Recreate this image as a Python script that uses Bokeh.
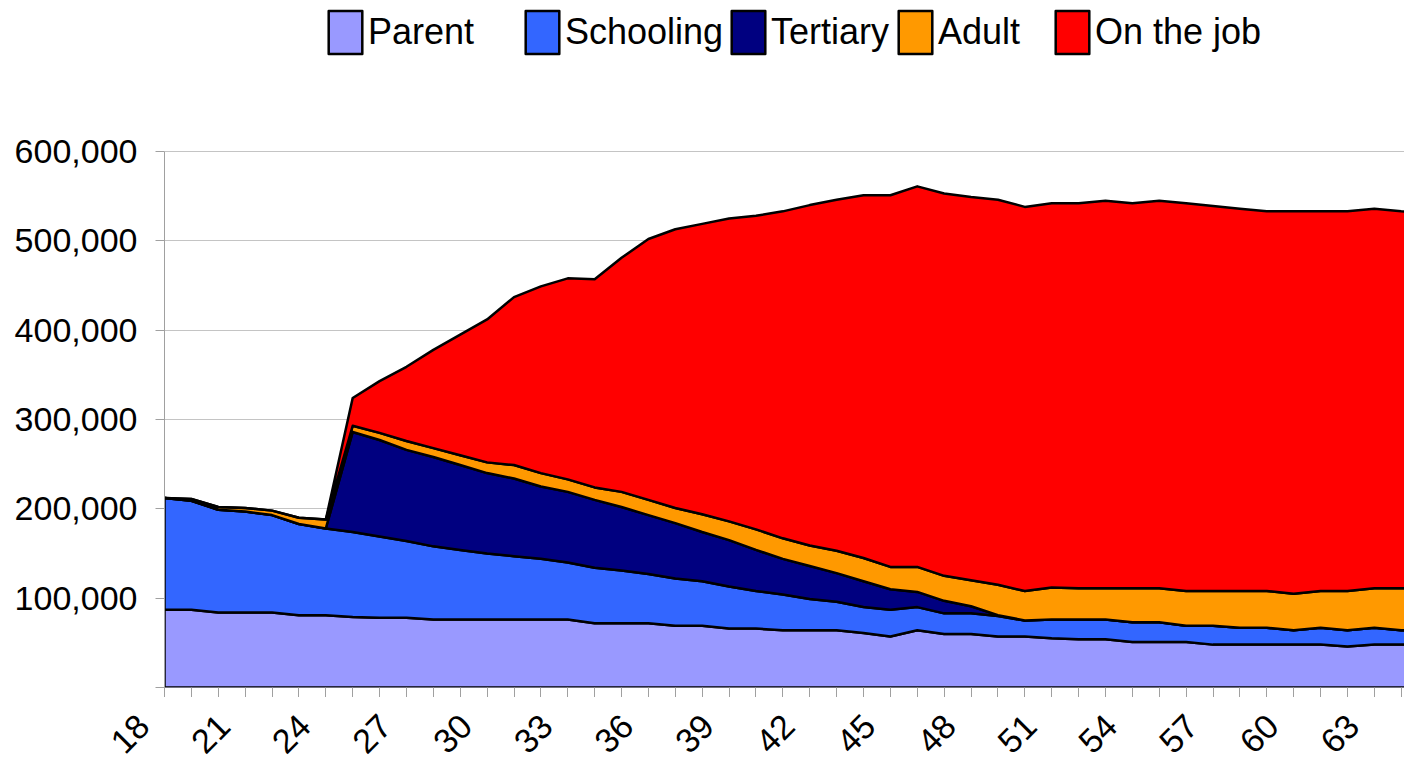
import numpy as np
from math import pi
from bokeh.plotting import figure
from bokeh.layouts import column
from bokeh.models import (Range1d, FixedTicker, NumeralTickFormatter, Legend,
                          LegendItem, LabelSet, ColumnDataSource)
from bokeh.core.properties import value
from bokeh.embed import file_html
from bokeh.resources import INLINE

# ---------------- data ----------------
ages = list(range(18, 66))

parent = [87000, 87000, 84000, 84000, 84000, 81000, 81000, 79000, 78000, 78000,
          76000, 76000, 76000, 76000, 76000, 76000, 72000, 72000, 72000, 69000,
          69000, 66000, 66000, 64000, 64000, 64000, 61000, 57000, 64000, 60000,
          60000, 57000, 57000, 55000, 54000, 54000, 51000, 51000, 51000, 48000,
          48000, 48000, 48000, 48000, 46000, 48000, 48000, 48000]

schooling = [125000, 122000, 115000, 113000, 109000, 102000, 97000, 95000, 91000, 86000,
             82000, 78000, 74000, 71000, 68000, 64000, 62000, 59000, 55000, 53000,
             50000, 47000, 42000, 40000, 35000, 32000, 29000, 30000, 26000, 23000,
             23000, 23000, 18000, 21000, 22000, 22000, 22000, 22000, 18000, 21000,
             19000, 19000, 16000, 19000, 18000, 19000, 16000, 16000]

tertiary = [0, 0, 0, 0, 0, 0, 0, 112000, 108000, 102000,
            100000, 95000, 90000, 87000, 81000, 79000, 76000, 71000, 66000, 62000,
            55000, 52000, 46000, 40000, 37000, 32000, 29000, 23000, 17000, 14000,
            8000, 1000, 0, 0, 0, 0, 0, 0, 0, 0,
            0, 0, 0, 0, 0, 0, 0, 0]

adult = [0, 2000, 3000, 4000, 5000, 7000, 10000, 7000, 8000, 10000,
         10000, 11000, 12000, 15000, 15000, 14000, 14000, 17000, 17000, 17000,
         20000, 21000, 23000, 23000, 23000, 25000, 26000, 25000, 28000, 28000,
         29000, 34000, 33000, 36000, 35000, 35000, 38000, 38000, 39000, 39000,
         41000, 41000, 41000, 41000, 44000, 44000, 47000, 47000]

on_the_job = [0, 0, 0, 0, 0, 0, 0, 31000, 58000, 83000,
              110000, 135000, 160000, 188000, 209000, 225000, 233000, 262000, 292000, 312000,
              325000, 339000, 351000, 366000, 381000, 393000, 406000, 416000, 426000, 428000,
              429000, 431000, 430000, 430000, 431000, 434000, 431000, 434000, 434000, 431000,
              428000, 425000, 428000, 425000, 425000, 425000, 422000, 421000]

series_names = ["Parent", "Schooling", "Tertiary", "Adult", "On the job"]
series_values = [parent, schooling, tertiary, adult, on_the_job]
series_colors = ["#9999FF", "#3366FF", "#000080", "#FF9900", "#FF0000"]

x_tick_labels = ["18", "21", "24", "27", "30", "33", "36", "39", "42", "45",
                 "48", "51", "54", "57", "60", "63"]
y_ticks = [0, 100000, 200000, 300000, 400000, 500000, 600000]
y_max = 600000

# ---------------- layout / style ----------------
FONT = "Liberation Sans"
GRAY = "#a0a0a0"
W, H = 1404, 760
LEFT = 164            # frame left edge (px)
ZERO_Y = 687          # pixel row of value 0
TOP_Y = 151           # pixel row of y_max
TICK_OUT = 10
PX_PER_AGE = 26.885
units_per_px = y_max / (ZERO_Y - TOP_Y)
frame_w = W - LEFT

# ---------------- main chart ----------------
p = figure(frame_width=frame_w, frame_height=ZERO_Y,
           output_backend="svg", toolbar_location=None,
           x_range=Range1d(ages[0], ages[0] + frame_w / PX_PER_AGE),
           y_range=Range1d(0, ZERO_Y * units_per_px),
           min_border_left=LEFT, min_border_right=0,
           min_border_top=0, min_border_bottom=TICK_OUT)
p.frame_align = False
p.outline_line_color = None
p.background_fill_color = "white"
p.border_fill_color = "white"

p.xgrid.visible = False
p.ygrid.grid_line_color = "#c4c4c4"
p.ygrid.grid_line_width = 1

# y axis
p.yaxis.ticker = FixedTicker(ticks=y_ticks)
p.yaxis.bounds = (0, y_max)
p.yaxis.formatter = NumeralTickFormatter(format="0,0")
p.yaxis.major_label_overrides = {0: ""}
p.yaxis.major_label_text_font = FONT
p.yaxis.major_label_text_font_size = "34px"
p.yaxis.major_label_text_color = "black"
p.yaxis.major_label_standoff = 18
p.yaxis.major_tick_out = 9
p.yaxis.major_tick_in = 0
p.yaxis.minor_tick_line_color = None
p.yaxis.axis_line_color = GRAY
p.yaxis.major_tick_line_color = GRAY

# x axis: a tick mark for every age (labels are drawn in the strip below)
p.xaxis.ticker = FixedTicker(ticks=ages)
p.xaxis.major_label_overrides = {a: "" for a in ages}
p.xaxis.major_label_text_font_size = "0px"
p.xaxis.major_label_standoff = 0
p.xaxis.major_tick_out = TICK_OUT
p.xaxis.major_tick_in = 0
p.xaxis.minor_tick_line_color = None
p.xaxis.axis_line_color = None
p.xaxis.major_tick_line_color = GRAY

# stacked areas
bottom = np.zeros(len(ages))
renderers = []
for name, vals, col in zip(series_names, series_values, series_colors):
    top = bottom + np.array(vals, dtype=float)
    xs = list(ages) + list(ages[::-1])
    ys = list(top) + list(bottom[::-1])
    r = p.patch(xs, ys, fill_color=col, line_color="black", line_width=2.5,
                line_join="round")
    renderers.append(r)
    bottom = top

# legend (one entry per box, like the original)
box_left = [328, 525, 731, 898, 1055]
for name, r, bx in zip(series_names, renderers, box_left):
    lg = Legend(items=[LegendItem(label=name, renderers=[r])],
                location=(bx - LEFT - 4, ZERO_Y - 59), orientation="horizontal",
                glyph_width=42, glyph_height=54, label_standoff=2,
                padding=0, margin=0, spacing=0,
                border_line_color=None, background_fill_alpha=0,
                label_text_font=FONT, label_text_font_size="36px",
                label_text_color="black")
    p.add_layout(lg)

# ---------------- strip with the rotated age labels ----------------
strip_h = H - ZERO_Y - TICK_OUT
p2 = figure(frame_width=W, frame_height=strip_h,
            output_backend="svg", toolbar_location=None,
            x_range=Range1d(ages[0] - LEFT / PX_PER_AGE, ages[0] + frame_w / PX_PER_AGE),
            y_range=Range1d(0, strip_h),
            x_axis_type=None, y_axis_type=None,
            min_border_left=0, min_border_right=0, min_border_top=0, min_border_bottom=0)
p2.frame_align = False
p2.outline_line_color = None
p2.background_fill_color = "white"
p2.border_fill_color = "white"
p2.xgrid.visible = False
p2.ygrid.visible = False

lab_src = ColumnDataSource(dict(x=[int(t) for t in x_tick_labels], text=x_tick_labels))
labels = LabelSet(x="x", y=strip_h - 23, y_units="screen", text="text", source=lab_src,
                  angle=pi / 4, x_offset=-21,
                  text_align="right", text_baseline="middle",
                  text_font=value(FONT), text_font_size="34px", text_color="black")
p2.add_layout(labels)

layout = column(p, p2, spacing=0)
open("out.html", "w").write(file_html(layout, INLINE))
